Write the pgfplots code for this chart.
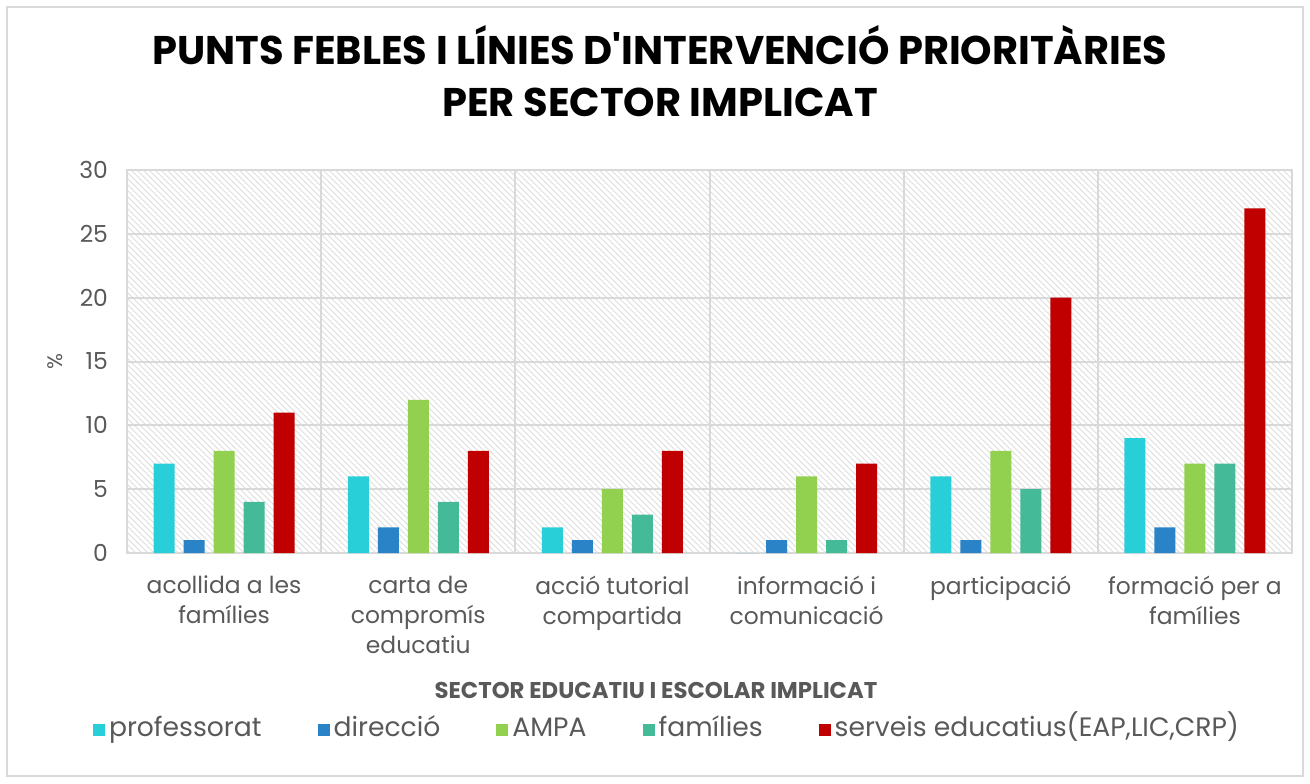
\documentclass[border=0pt]{standalone}
\usepackage{pgfplots}
\pgfplotsset{compat=1.18}
\usepackage{fontspec}
\setmainfont{Poppins}
\usetikzlibrary{patterns}

\definecolor{cprof}{HTML}{29CFD8}
\definecolor{cdir}{HTML}{2A83C6}
\definecolor{campa}{HTML}{92D050}
\definecolor{cfam}{HTML}{44BA98}
\definecolor{cserv}{HTML}{C00000}
\definecolor{txt}{HTML}{595959}
\definecolor{gridc}{HTML}{D9D9D9}

\begin{document}
\begin{tikzpicture}
\path[use as bounding box] (-63.5pt,-115pt) rectangle (591.5pt,276.5pt);
\draw[gridc, line width=0.8pt] (-60pt,-111.5pt) rectangle (588pt,273pt);

\begin{axis}[
    at={(0,0)}, anchor=south west,
    scale only axis,
    width=582.5pt, height=191.5pt,
    ybar=4.5pt,
    bar width=10.5pt,
    xmin=-0.5, xmax=5.5,
    ymin=0, ymax=30,
    ytick={0,5,...,30},
    xtick={0,...,5},
    xticklabels={{acollida a les\\famílies},{carta de\\compromís\\educatiu},{acció tutorial\\compartida},{informació i\\comunicació},{participació},{formació per a\\famílies}},
    minor xtick={0.5,1.5,2.5,3.5,4.5},
    ymajorgrids, xminorgrids,
    major grid style={gridc, line width=1pt},
    minor grid style={gridc, line width=1pt},
    axis line style={gridc, line width=1pt},
    major tick length=0pt, minor tick length=0pt,
    axis background/.style={pattern=north west lines, pattern color=black!13},
    tick label style={font=\fontsize{11.7}{15}\selectfont, text=txt},
    xticklabel style={align=center, yshift=-8pt},
    yticklabel style={xshift=-6pt},
    /pgf/number format/assume math mode=true,
    legend style={at={(0.4644,-0.462)}, anchor=center, draw=none, fill=none,
        legend columns=5, font=\fontsize{13.3}{14}\selectfont, text=txt,
        nodes={text height=1.6ex, text depth=0.4ex},
        /tikz/every even column/.append style={column sep=26pt},
        legend cell align=left},
    legend image code/.code={\fill[#1] (0pt,-3pt) rectangle (6pt,3pt);},
    every axis plot/.append style={draw=none},
]
\addplot[fill=cprof] coordinates {(0,7) (1,6) (2,2) (3,0) (4,6) (5,9)};
\addplot[fill=cdir] coordinates {(0,1) (1,2) (2,1) (3,1) (4,1) (5,2)};
\addplot[fill=campa] coordinates {(0,8) (1,12) (2,5) (3,6) (4,8) (5,7)};
\addplot[fill=cfam] coordinates {(0,4) (1,4) (2,3) (3,1) (4,5) (5,7)};
\addplot[fill=cserv] coordinates {(0,11) (1,8) (2,8) (3,7) (4,20) (5,27)};
\legend{professorat, direcció, AMPA, famílies, {serveis educatius(EAP,LIC,CRP)}}
\end{axis}

\node[text=txt, rotate=90, font=\fontsize{10.5}{12}\selectfont] at (-36pt,95.5pt) {\%};
\node[text=txt, font=\fontsize{11.4}{12}\selectfont\bfseries] at (264.5pt,-68.5pt) {SECTOR EDUCATIU I ESCOLAR IMPLICAT};
\node[align=center, font=\fontsize{20}{26}\selectfont\bfseries] at (266.5pt,241pt)
    {PUNTS FEBLES I LÍNIES D\textquotesingle INTERVENCIÓ PRIORITÀRIES\\PER SECTOR IMPLICAT};
\end{tikzpicture}
\end{document}
